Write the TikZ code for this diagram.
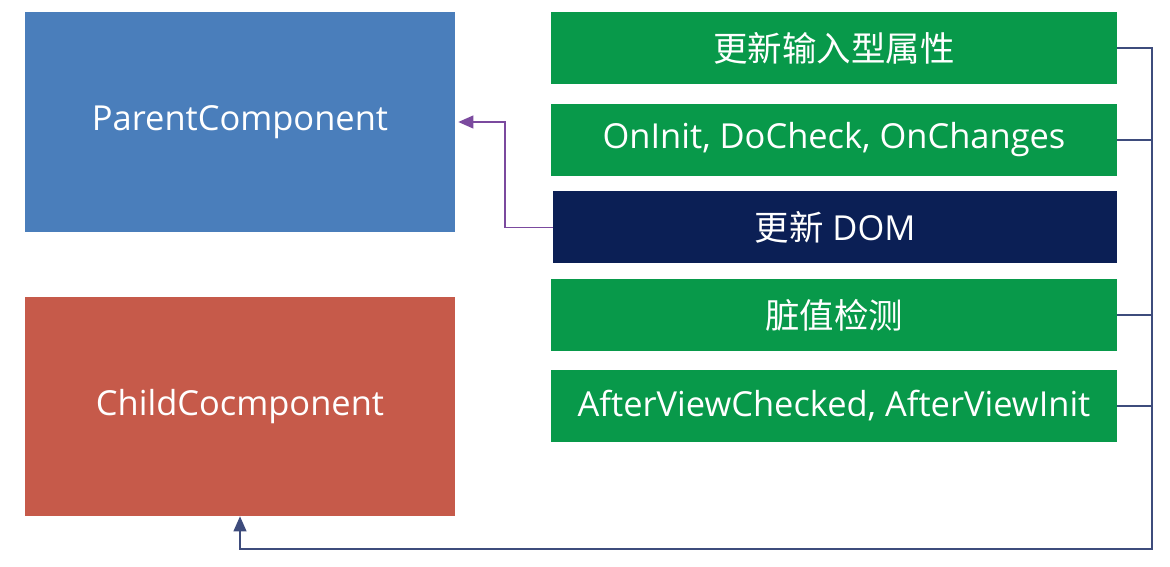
\documentclass[tikz,border=0pt]{standalone}
\usepackage{fontspec}
\setmainfont{Open Sans}
\newfontfamily\cjk{Noto Sans CJK SC}
\usetikzlibrary{arrows.meta}
\definecolor{parent-blue}{HTML}{4A7EBB}
\definecolor{child-red}{HTML}{C65A4A}
\definecolor{step-green}{HTML}{08994A}
\definecolor{dom-navy}{HTML}{0B1F55}
\definecolor{link-line}{HTML}{3E4C7C}
\definecolor{back-purple}{HTML}{7B4A9E}

\begin{document}
\begin{tikzpicture}[
      every node/.style={font=\fontsize{19.6}{23}\selectfont, text=white},
      comp/.style={minimum width=8.6cm, minimum height=4.4cm, align=center},
      phase/.style={fill=step-green, minimum width=11.32cm, minimum height=1.44cm, align=center}]
    \useasboundingbox (0,0) rectangle (23.4,11.34);
    \node[comp, fill=parent-blue] (PC) at (4.8,8.9) {ParentComponent};
    \node[comp, fill=child-red, minimum height=4.38cm] (CC) at (4.8,3.21) {ChildCocmponent};
    \node[phase] (ATTR) at (16.68,10.38) {\cjk 更新输入型属性};
    \node[phase] (HOOK) at (16.68,8.54) {OnInit, DoCheck, OnChanges};
    \node[phase, fill=dom-navy, minimum width=11.28cm] (DOM) at (16.7,6.79) {{\cjk 更新} DOM};
    \node[phase] (DIRTY) at (16.68,5.04) {\cjk 脏值检测};
    \node[phase] (VIEW) at (16.68,3.22) {AfterViewChecked, AfterViewInit};
    \coordinate (rail) at (23.04,0.36);
    \coordinate (bend) at (10.1,6.79);
    % lifecycle back to the child
    \draw[link-line, semithick, -{Triangle[length=3mm, width=2.6mm]}]
          (ATTR.east) -| (rail) -| (CC.south);
    \draw[link-line, semithick] (HOOK.east) -- (HOOK.east -| rail);
    \draw[link-line, semithick] (DIRTY.east) -- (DIRTY.east -| rail);
    \draw[link-line, semithick] (VIEW.east) -- (VIEW.east -| rail);
    % DOM update goes to the parent
    \draw[back-purple, semithick, -{Triangle[length=3mm, width=2.6mm]}]
          (DOM.west) -- (bend) |- ([xshift=0.06cm]PC.east);
  \end{tikzpicture}
\end{document}
